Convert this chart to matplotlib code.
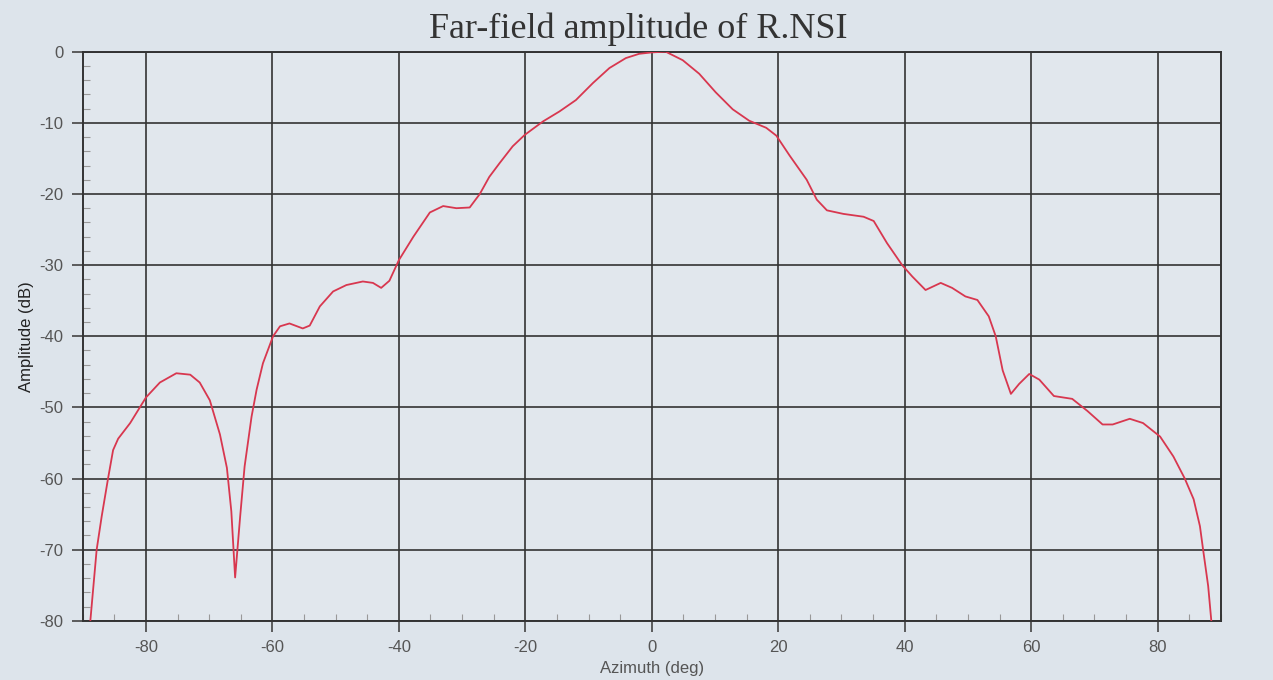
import matplotlib
matplotlib.use("Agg")
import matplotlib.pyplot as plt
from matplotlib.ticker import MultipleLocator

plt.rcParams["axes.unicode_minus"] = False
plt.rcParams["font.family"] = ["Liberation Sans", "DejaVu Sans"]

# Azimuth (deg) and amplitude (dB)
azimuth = [-88.8, -87.8, -87.0, -86.0, -85.2, -84.4, -82.5, -80.0, -77.8, -75.2,
           -73.0, -71.5, -69.9, -68.3, -67.2, -66.5, -65.9, -65.1, -64.4, -63.3,
           -62.5, -61.5, -59.9, -58.8, -57.3, -55.2, -54.1, -52.5, -50.4, -48.3,
           -45.7, -44.1, -42.8, -41.5, -40.0, -37.7, -35.1, -33.0, -30.9, -28.8,
           -27.2, -25.7, -24.1, -22.0, -20.1, -17.2, -14.6, -12.0, -9.3, -6.7,
           -4.1, -2.0, 0.0, 2.2, 4.9, 7.5, 10.1, 12.8, 15.4, 18.1,
           19.7, 21.8, 24.5, 26.1, 27.7, 30.3, 33.5, 35.1, 37.2, 39.6,
           41.2, 43.3, 45.7, 47.5, 49.6, 51.5, 53.3, 54.4, 55.5, 56.8,
           58.1, 59.7, 61.3, 63.6, 66.5, 68.9, 71.3, 72.9, 75.6, 77.7,
           80.4, 82.5, 84.3, 85.7, 86.7, 87.2, 88.0, 88.5]
amplitude = [-80.0, -70.0, -65.3, -60.0, -56.0, -54.4, -52.2, -48.6, -46.5, -45.2,
             -45.4, -46.5, -49.0, -53.8, -58.5, -64.6, -73.9, -65.3, -58.3, -51.3,
             -47.5, -43.8, -40.0, -38.6, -38.2, -38.9, -38.5, -35.8, -33.7, -32.8,
             -32.3, -32.5, -33.2, -32.2, -29.3, -26.0, -22.6, -21.7, -22.0, -21.9,
             -20.0, -17.6, -15.7, -13.3, -11.7, -9.8, -8.4, -6.8, -4.4, -2.3,
             -0.9, -0.3, -0.1, 0.0, -1.2, -3.1, -5.7, -8.1, -9.7, -10.7,
             -11.8, -14.6, -18.0, -20.8, -22.3, -22.8, -23.2, -23.8, -26.9, -30.0,
             -31.6, -33.5, -32.5, -33.2, -34.4, -34.9, -37.2, -40.0, -44.8, -48.1,
             -46.7, -45.3, -46.1, -48.4, -48.8, -50.5, -52.4, -52.4, -51.6, -52.2,
             -54.1, -56.9, -60.0, -62.9, -66.7, -70.0, -75.1, -80.0]

x_ticks = [-80, -60, -40, -20, 0, 20, 40, 60, 80]
y_ticks = [0, -10, -20, -30, -40, -50, -60, -70, -80]

bg = "#dde4eb"
fig = plt.figure(figsize=(12.73, 6.8), dpi=100, facecolor=bg)
ax = fig.add_axes([0.065, 0.087, 0.894, 0.837], facecolor="#e1e7ed")

ax.plot(azimuth, amplitude, color="#d8374f", lw=1.3, zorder=3)

ax.set_xlim(-90, 90)
ax.set_ylim(-80, 0)
ax.set_xticks(x_ticks)
ax.set_yticks(y_ticks)
ax.xaxis.set_minor_locator(MultipleLocator(5))
ax.yaxis.set_minor_locator(MultipleLocator(2))
ax.grid(True, which="major", color="#333333", lw=1.4, alpha=0.85)
ax.tick_params(which="major", direction="out", length=8, width=1.2, color="#444444",
               labelcolor="#555555", labelsize=12, pad=6)
ax.tick_params(which="minor", direction="in", length=5, width=0.8, color="#999999")
for s in ax.spines.values():
    s.set_color("#333333")
    s.set_linewidth(1.4)

ax.set_title("Far-field amplitude of R.NSI", family="Liberation Serif", fontsize=26,
             color="#333333", pad=10, x=0.488)
ax.set_ylabel("Amplitude (dB)", fontsize=12, color="#222222", labelpad=4)
ax.set_xlabel("Azimuth (deg)", fontsize=12, color="#555555", labelpad=4)

fig.savefig("out.png", dpi=100, facecolor=bg)
